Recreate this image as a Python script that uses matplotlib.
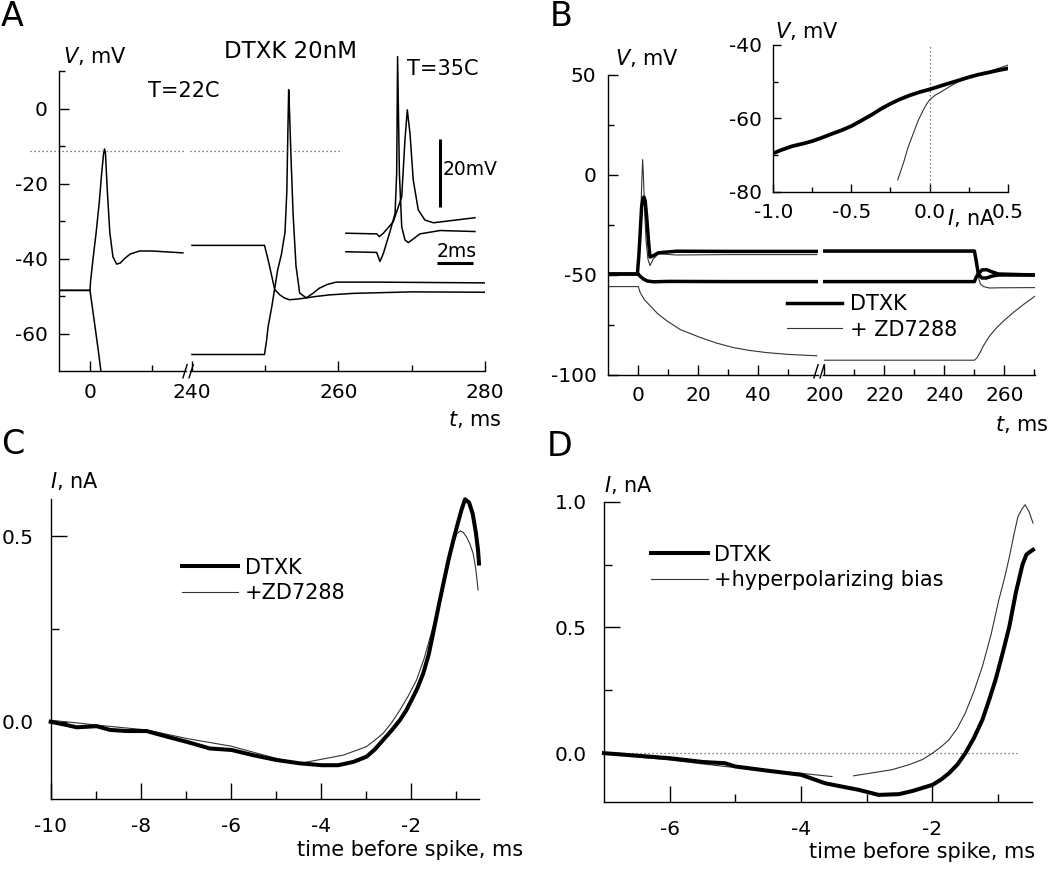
import matplotlib
matplotlib.use("Agg")
import matplotlib.pyplot as plt
import numpy as np
from matplotlib.ticker import FormatStrFormatter

# ---------------- DATA ----------------
# Panel A (T=22C), left segment (ms, mV)
a_spk_t = [-5, 0, 0.1, 0.5, 1.0, 1.5, 1.9, 2.2, 2.35, 2.5, 2.8, 3.2, 3.7, 4.3, 4.9, 5.6, 6.5, 8, 10, 12, 15]
a_spk_v = [-48.5, -48.5, -46, -40, -33, -25, -17, -12, -10.8, -12, -22, -33, -39.5, -41.5, -41.2, -40, -38.8, -38, -38, -38.2, -38.5]
a_hyp_t = [-5, 0, 0.3, 0.8, 1.3, 1.8]
a_hyp_v = [-48.5, -48.5, -52, -58, -64, -70.5]
# Panel A, right segment
a_r1_t = [240, 249.9, 250.4, 250.9, 251.3, 252.0, 252.6, 253.3, 254.5, 255.6, 257, 258.8, 262, 270, 280]
a_r1_v = [-36.5, -36.5, -40.4, -44.8, -48.3, -49.7, -50.5, -51, -50.8, -50.5, -50.1, -49.7, -49.3, -48.9, -49]
a_r2_t = [240, 249.9, 250.2, 250.4, 250.9, 251.3, 251.7, 252.2, 252.7, 252.95, 253.1, 253.2,
          253.3, 253.5, 253.8, 254.2, 254.7, 255.6, 256.5, 257.4, 258.5, 259.7, 265, 280]
a_r2_v = [-65.6, -65.6, -61.6, -58.1, -52.8, -47.9, -43.0, -39.0, -33.0, -22, -5, 5,
          0, -12, -28, -42, -49.2, -50.5, -49.3, -47.9, -46.9, -46.3, -46.3, -46.5]
a_threshold = -11.4
# Panel A inset (T=35C), ms / mV
in_1_t = [0.33, 2.04, 2.19, 2.41, 2.96, 3.43, 3.61, 3.74, 3.89, 4.07, 4.35, 4.72, 5.19, 7.5]
in_1_v = [-47.6, -47.8, -48.6, -47.6, -44.2, -36.8, -19.9, -11.0, -18.0, -31.8, -40.7, -43.7, -44.5, -43.0]
in_2_t = [0.33, 2.04, 2.22, 2.41, 2.78, 3.06, 3.15, 3.20, 3.30, 3.43, 3.61, 3.80, 4.44, 5.56, 7.5]
in_2_v = [-53.1, -53.3, -56.0, -53.6, -47.1, -41.7, -29.8, 4.8, -29.8, -45.7, -49.6, -50.4, -47.8, -46.8, -47.1]

# Panel B main, left segment (ms, mV)
b_dtxk_dep_t = [-10, -0.3, 0.2, 0.6, 1.1, 1.6, 1.9, 2.3, 2.8, 3.4, 3.9, 4.8, 6.7, 12.8, 30, 59.5]
b_dtxk_dep_v = [-49.5, -49.5, -40, -29.4, -16, -11.5, -11, -13, -21, -33, -41, -40.5, -38.9, -38.1, -38.2, -38.2]
b_dtxk_hyp_t = [-10, 0, 0.5, 1.7, 3, 5, 10, 30, 59.5]
b_dtxk_hyp_v = [-49.5, -49.5, -50.5, -52, -53, -53.4, -53.2, -53.3, -53.3]
b_zd_dep_t = [-10, -0.3, 0.3, 0.8, 1.2, 1.45, 1.7, 2.1, 2.6, 3.2, 3.9, 5, 6.7, 12.8, 30, 59.5]
b_zd_dep_v = [-49.5, -49.5, -38, -20, -2, 7.7, 0, -18, -33, -42, -45.3, -42, -39.4, -40, -39.8, -39.8]
b_zd_hyp_t = [-10, 0, 0.6, 2, 3.9, 6.5, 9.5, 14, 20.6, 26, 31.7, 37, 42.8, 50, 59.5]
b_zd_hyp_v = [-55.8, -55.8, -58.7, -62.3, -65.3, -69.4, -72.9, -77.3, -81.2, -84.0, -86.3, -87.7, -88.8, -89.7, -90.4]
# Panel B main, right segment
b_dtxk_dep_rt = [200, 250.0, 250.6, 251.3, 252.5, 254, 256, 258, 270.2]
b_dtxk_dep_rv = [-38, -38, -43, -49.5, -51.5, -51.5, -50.5, -50, -50]
b_dtxk_hyp_rt = [200, 250.0, 250.6, 251.3, 252.5, 254, 256, 258, 270.2]
b_dtxk_hyp_rv = [-53.3, -53.3, -51, -49.5, -47.5, -47.3, -48.5, -49.5, -50]
b_zd_dep_rt = [200, 250, 250.6, 251.3, 252, 253, 255, 258, 270.2]
b_zd_dep_rv = [-38.5, -38.5, -44, -51, -54.5, -55.8, -56.5, -56.4, -56.3]
b_zd_hyp_rt = [200, 250, 250.8, 252, 253, 255, 257.5, 260, 263, 266.5, 270.2]
b_zd_hyp_rv = [-92.6, -92.6, -91.5, -88.4, -85.4, -80.6, -76.2, -72.6, -68.7, -64.6, -60.6]
# Panel B inset: I (nA) vs V (mV)
bi_dtxk_i = [-1.0, -0.94, -0.88, -0.81, -0.75, -0.69, -0.63, -0.56, -0.5, -0.44, -0.37, -0.31, -0.25,
             -0.19, -0.125, -0.06, 0, 0.06, 0.12, 0.19, 0.25, 0.31, 0.376, 0.44, 0.5]
bi_dtxk_v = [-69.5, -68.5, -67.6, -66.9, -66.2, -65.3, -64.3, -63.2, -62.1, -60.7, -59.0, -57.4, -56.0,
             -54.8, -53.7, -52.8, -52.1, -51.3, -50.5, -49.6, -48.8, -48.1, -47.5, -46.9, -46.4]
bi_zd_i = [-0.204, -0.168, -0.136, -0.104, -0.072, -0.04, -0.02, 0, 0.035, 0.077, 0.13, 0.184, 0.25, 0.376, 0.5]
bi_zd_v = [-76.8, -72.3, -67.7, -64.1, -60.5, -57.7, -56.2, -55, -53.7, -52.7, -51.3, -50, -48.8, -47.3, -45.5]

# Panel C: time before spike (ms) vs I (nA)
c_dtxk_t = [-10, -9.64, -9.42, -8.98, -8.68, -8.31, -7.87, -7.42, -6.98, -6.46, -5.98, -5.5, -4.98,
            -4.46, -3.98, -3.61, -3.27, -2.98, -2.8, -2.61, -2.42, -2.24, -2.1, -1.98, -1.85, -1.72,
            -1.6, -1.5, -1.38, -1.27, -1.16, -1.05, -0.95, -0.87, -0.79, -0.7, -0.62, -0.55, -0.5, -0.48]
c_dtxk_i = [0, -0.009, -0.015, -0.012, -0.022, -0.025, -0.025, -0.04, -0.054, -0.072, -0.076, -0.09, -0.103,
            -0.112, -0.117, -0.117, -0.108, -0.094, -0.075, -0.049, -0.023, 0.004, 0.03, 0.058, 0.09, 0.13,
            0.18, 0.238, 0.31, 0.373, 0.435, 0.489, 0.535, 0.57, 0.599, 0.59, 0.56, 0.51, 0.46, 0.426]
c_zd_t = [-10, -9.42, -8.98, -7.87, -6.98, -5.98, -4.98, -4.46, -3.98, -3.5, -2.98, -2.8, -2.61, -2.42,
          -2.24, -2.05, -1.87, -1.7, -1.5, -1.35, -1.2, -1.09, -0.98, -0.9, -0.83, -0.76, -0.68, -0.61, -0.55, -0.5]
c_zd_i = [0.004, -0.003, -0.009, -0.022, -0.045, -0.066, -0.099, -0.112, -0.101, -0.09, -0.067, -0.05, -0.031, -0.002,
          0.031, 0.07, 0.112, 0.17, 0.256, 0.33, 0.4, 0.46, 0.505, 0.514, 0.51, 0.498, 0.478, 0.453, 0.41, 0.355]

# Panel D
d_dtxk_t = [-7, -6.5, -6, -5.5, -5.16, -5, -4.5, -4, -3.63, -3.12, -2.82, -2.51, -2.3, -2, -1.87, -1.75, -1.62,
            -1.5, -1.37, -1.24, -1.14, -1.04, -0.93, -0.83, -0.73, -0.63, -0.57, -0.52, -0.47]
d_dtxk_i = [0, -0.01, -0.02, -0.035, -0.04, -0.053, -0.07, -0.086, -0.12, -0.146, -0.166, -0.163, -0.15, -0.126,
            -0.105, -0.08, -0.045, 0, 0.06, 0.133, 0.21, 0.292, 0.4, 0.504, 0.64, 0.75, 0.79, 0.8, 0.809]
d_bias_t = [-7, -6.5, -6, -5.16, -4, -3.53, np.nan, -3.2, -2.62, -2.36, -2.15, -2, -1.87, -1.75, -1.62, -1.5,
            -1.37, -1.24, -1.11, -0.99, -0.9, -0.83, -0.76, -0.7, -0.64, -0.59, -0.53, -0.47]
d_bias_i = [0, -0.015, -0.027, -0.053, -0.08, -0.093, np.nan, -0.09, -0.066, -0.046, -0.025, 0, 0.025, 0.053, 0.1, 0.16,
            0.245, 0.345, 0.47, 0.61, 0.7, 0.78, 0.87, 0.94, 0.97, 0.988, 0.96, 0.915]

# ---------------- STYLE ----------------
plt.rcParams.update({
    "font.family": ["DejaVu Sans"],
    "axes.unicode_minus": False,
    "mathtext.fontset": "dejavusans",
    "axes.linewidth": 1.0,
    "xtick.direction": "in",
    "ytick.direction": "in",
    "lines.solid_joinstyle": "round",
})

W, H = 1050, 869
fig = plt.figure(figsize=(W / 100, H / 100), dpi=100)

TICK_FS = 14.5
LAB_FS = 15
LET_FS = 24
THICK = 2.9
THIN = 0.8
THIN_C = "0.2"
TRACE = 1.1
DOT = dict(color="0.35", lw=0.9, ls=(0, (1, 2.2)))


def add_ax(l, t, r, b):
    return fig.add_axes([l / W, 1 - b / H, (r - l) / W, (b - t) / H])


def ftext(x, y, s, **kw):
    kw.setdefault("fontsize", LAB_FS)
    fig.text(x / W, 1 - y / H, s, **kw)


def style(ax, left=True, major=7, minor=4.5, padx=9, pady=8):
    for s in ("top", "right"):
        ax.spines[s].set_visible(False)
    ax.patch.set_alpha(0)
    ax.tick_params(which="major", length=major, width=1.0, labelsize=TICK_FS)
    ax.tick_params(which="minor", length=minor, width=1.0)
    ax.tick_params(axis="x", which="both", pad=padx)
    ax.tick_params(axis="y", which="both", pad=pady)
    if not left:
        ax.spines["left"].set_visible(False)
        ax.tick_params(axis="y", which="both", left=False, labelleft=False)


def legend(ax, handles, labels, x_left, y_center, hl_px, gap_px):
    fspx = LAB_FS * 100 / 72
    ax.legend(handles, labels, loc="center left",
              bbox_to_anchor=(x_left / W, 1 - y_center / H),
              bbox_transform=fig.transFigure, frameon=False, borderpad=0,
              borderaxespad=0, handlelength=hl_px / fspx, handletextpad=gap_px / fspx,
              labelspacing=0.27, fontsize=LAB_FS)


# ---------------- PANEL A ----------------
axA1 = add_ax(59, 71, 186, 371)
axA2 = add_ax(190, 71, 485, 371)
for ax in (axA1, axA2):
    ax.set_ylim(-70, 10)
axA1.set_xlim(-5, 15.5)
axA2.set_xlim(239.73, 280)
style(axA1)
style(axA2, left=False)
axA1.set_yticks([-60, -40, -20, 0])
axA1.set_yticks([-50, -30, -10, 10], minor=True)
axA1.set_xticks([0])
axA1.set_xticks([10], minor=True)
axA2.set_xticks([240, 260, 280])
axA2.set_xticks([250, 270], minor=True)

axA1.plot(a_spk_t, a_spk_v, color="k", lw=TRACE)
axA1.plot(a_hyp_t, a_hyp_v, color="k", lw=TRACE)
axA2.plot(a_r1_t, a_r1_v, color="k", lw=TRACE)
axA2.plot(a_r2_t, a_r2_v, color="k", lw=TRACE)
axA1.plot([-9.7, 15.5], [a_threshold] * 2, clip_on=False, **DOT)
axA2.plot([239.73, 260.5], [a_threshold] * 2, clip_on=False, **DOT)

# inset (T=35C)
axAi = add_ax(340, 50, 480, 275)
axAi.set_xlim(0, 7.78)
axAi.set_ylim(-60, 6.77)
axAi.axis("off")
axAi.plot(in_1_t, in_1_v, color="k", lw=TRACE)
axAi.plot(in_2_t, in_2_v, color="k", lw=TRACE)
axAi.plot([5.56, 5.56], [-39.7, -19.7], color="k", lw=2.2, solid_capstyle="butt")
axAi.plot([5.41, 7.41], [-56.3, -56.3], color="k", lw=2.2, solid_capstyle="butt")
axAi.text(5.72, -28.8, "20mV", fontsize=13.5, ha="left", va="center")
axAi.text(6.5, -52.9, "2ms", fontsize=13.5, ha="center", va="center")

ftext(12, 16, "A", fontsize=LET_FS, ha="center", va="center")
ftext(63, 56, r"$\it{V}$, mV", ha="left", va="center")
ftext(290, 52, "DTXK 20nM", fontsize=16.5, ha="center", va="center")
ftext(184, 91, "T=22C", ha="center", va="center")
ftext(443, 69, "T=35C", ha="center", va="center")
ftext(502, 420, r"$\it{t}$, ms", ha="right", va="center")
ftext(188, 372, "//", fontsize=13, ha="center", va="center")

# ---------------- PANEL B ----------------
axB1 = add_ax(607.7, 75, 818.3, 375)
axB2 = add_ax(823, 75, 1035, 375)
for ax in (axB1, axB2):
    ax.set_ylim(-100, 50)
axB1.set_xlim(-10.2, 60)
axB2.set_xlim(199.5, 270.2)
style(axB1, padx=8)
style(axB2, left=False, padx=8)
axB1.set_yticks([-100, -50, 0, 50])
axB1.set_yticks([-75, -25, 25], minor=True)
axB1.set_xticks([0, 20, 40])
axB1.set_xticks([10, 30, 50], minor=True)
axB2.set_xticks([200, 220, 240, 260])
axB2.set_xticks([210, 230, 250, 270], minor=True)

l_thin = axB1.plot(b_zd_dep_t, b_zd_dep_v, color=THIN_C, lw=THIN)[0]
axB1.plot(b_zd_hyp_t, b_zd_hyp_v, color=THIN_C, lw=THIN)
axB2.plot(b_zd_dep_rt, b_zd_dep_rv, color=THIN_C, lw=THIN)
axB2.plot(b_zd_hyp_rt, b_zd_hyp_rv, color=THIN_C, lw=THIN)
l_thick = axB1.plot(b_dtxk_dep_t, b_dtxk_dep_v, color="k", lw=THICK - 0.4)[0]
axB1.plot(b_dtxk_hyp_t, b_dtxk_hyp_v, color="k", lw=THICK - 0.4)
axB2.plot(b_dtxk_dep_rt, b_dtxk_dep_rv, color="k", lw=THICK - 0.4)
axB2.plot(b_dtxk_hyp_rt, b_dtxk_hyp_rv, color="k", lw=THICK - 0.4)
legend(axB2, [l_thick, l_thin], ["DTXK", "+ ZD7288"], 786.7, 316.7, 55, 8)

# inset I-V
axBi = add_ax(773.3, 45, 1007.7, 191.7)
axBi.set_xlim(-1.0, 0.5)
axBi.set_ylim(-80, -40)
style(axBi, major=6, minor=3.5, padx=8, pady=8)
axBi.set_xticks([-1.0, -0.5, 0.0, 0.5])
axBi.set_xticks([-0.75, -0.25, 0.25], minor=True)
axBi.set_yticks([-80, -60, -40])
axBi.set_yticks([-70, -50], minor=True)
axBi.xaxis.set_major_formatter(FormatStrFormatter("%.1f"))
axBi.axvline(0, **DOT)
axBi.plot(bi_zd_i, bi_zd_v, color=THIN_C, lw=THIN)
axBi.plot(bi_dtxk_i, bi_dtxk_v, color="k", lw=THICK - 0.2)

ftext(561, 16, "B", fontsize=LET_FS, ha="center", va="center")
ftext(615, 58, r"$\it{V}$, mV", ha="left", va="center")
ftext(1049, 425, r"$\it{t}$, ms", ha="right", va="center")
ftext(775, 31, r"$\it{V}$, mV", ha="left", va="center")
ftext(947, 218, r"$\it{I}$, nA", ha="left", va="center")
ftext(819, 372, "//", fontsize=13, ha="center", va="center")

# ---------------- PANEL C ----------------
axC = add_ax(50.7, 499.3, 479, 799)
axC.set_xlim(-10, -0.48)
axC.set_ylim(-0.208, 0.599)
style(axC, major=11.5, minor=6, padx=13, pady=12.5)
axC.set_xticks([-10, -8, -6, -4, -2])
axC.set_xticks([-9, -7, -5, -3, -1], minor=True)
axC.set_yticks([0.0, 0.5])
axC.set_yticks([0.25], minor=True)
axC.yaxis.set_major_formatter(FormatStrFormatter("%.1f"))
lc_thin = axC.plot(c_zd_t, c_zd_i, color=THIN_C, lw=THIN)[0]
lc_thick = axC.plot(c_dtxk_t, c_dtxk_i, color="k", lw=THICK, clip_on=False)[0]
legend(axC, [lc_thick, lc_thin], ["DTXK", "+ZD7288"], 181.7, 580.5, 56.6, 6.7)

ftext(13, 444, "C", fontsize=LET_FS, ha="center", va="center")
ftext(50, 481, r"$\it{I}$, nA", ha="left", va="center")
ftext(523, 850, "time before spike, ms", ha="right", va="center")

# ---------------- PANEL D ----------------
axD = add_ax(604, 501.7, 1031.7, 801.7)
axD.set_xlim(-7, -0.49)
axD.set_ylim(-0.193, 1.0)
style(axD, major=11.5, minor=6, padx=13, pady=12.5)
axD.set_xticks([-6, -4, -2])
axD.set_xticks([-5, -3, -1], minor=True)
axD.set_yticks([0.0, 0.5, 1.0])
axD.set_yticks([0.25, 0.75], minor=True)
axD.yaxis.set_major_formatter(FormatStrFormatter("%.1f"))
axD.plot([-7, -0.68], [0, 0], **DOT)
ld_thin = axD.plot(d_bias_t, d_bias_i, color=THIN_C, lw=THIN, clip_on=False)[0]
ld_thick = axD.plot(d_dtxk_t, d_dtxk_i, color="k", lw=THICK, clip_on=False)[0]
legend(axD, [ld_thick, ld_thin], ["DTXK", "+hyperpolarizing bias"], 651, 567.5, 56.7, 6.3)

ftext(560, 446, "D", fontsize=LET_FS, ha="center", va="center")
ftext(604, 485, r"$\it{I}$, nA", ha="left", va="center")
ftext(1035, 852, "time before spike, ms", ha="right", va="center")

fig.savefig("out.png", dpi=100)
